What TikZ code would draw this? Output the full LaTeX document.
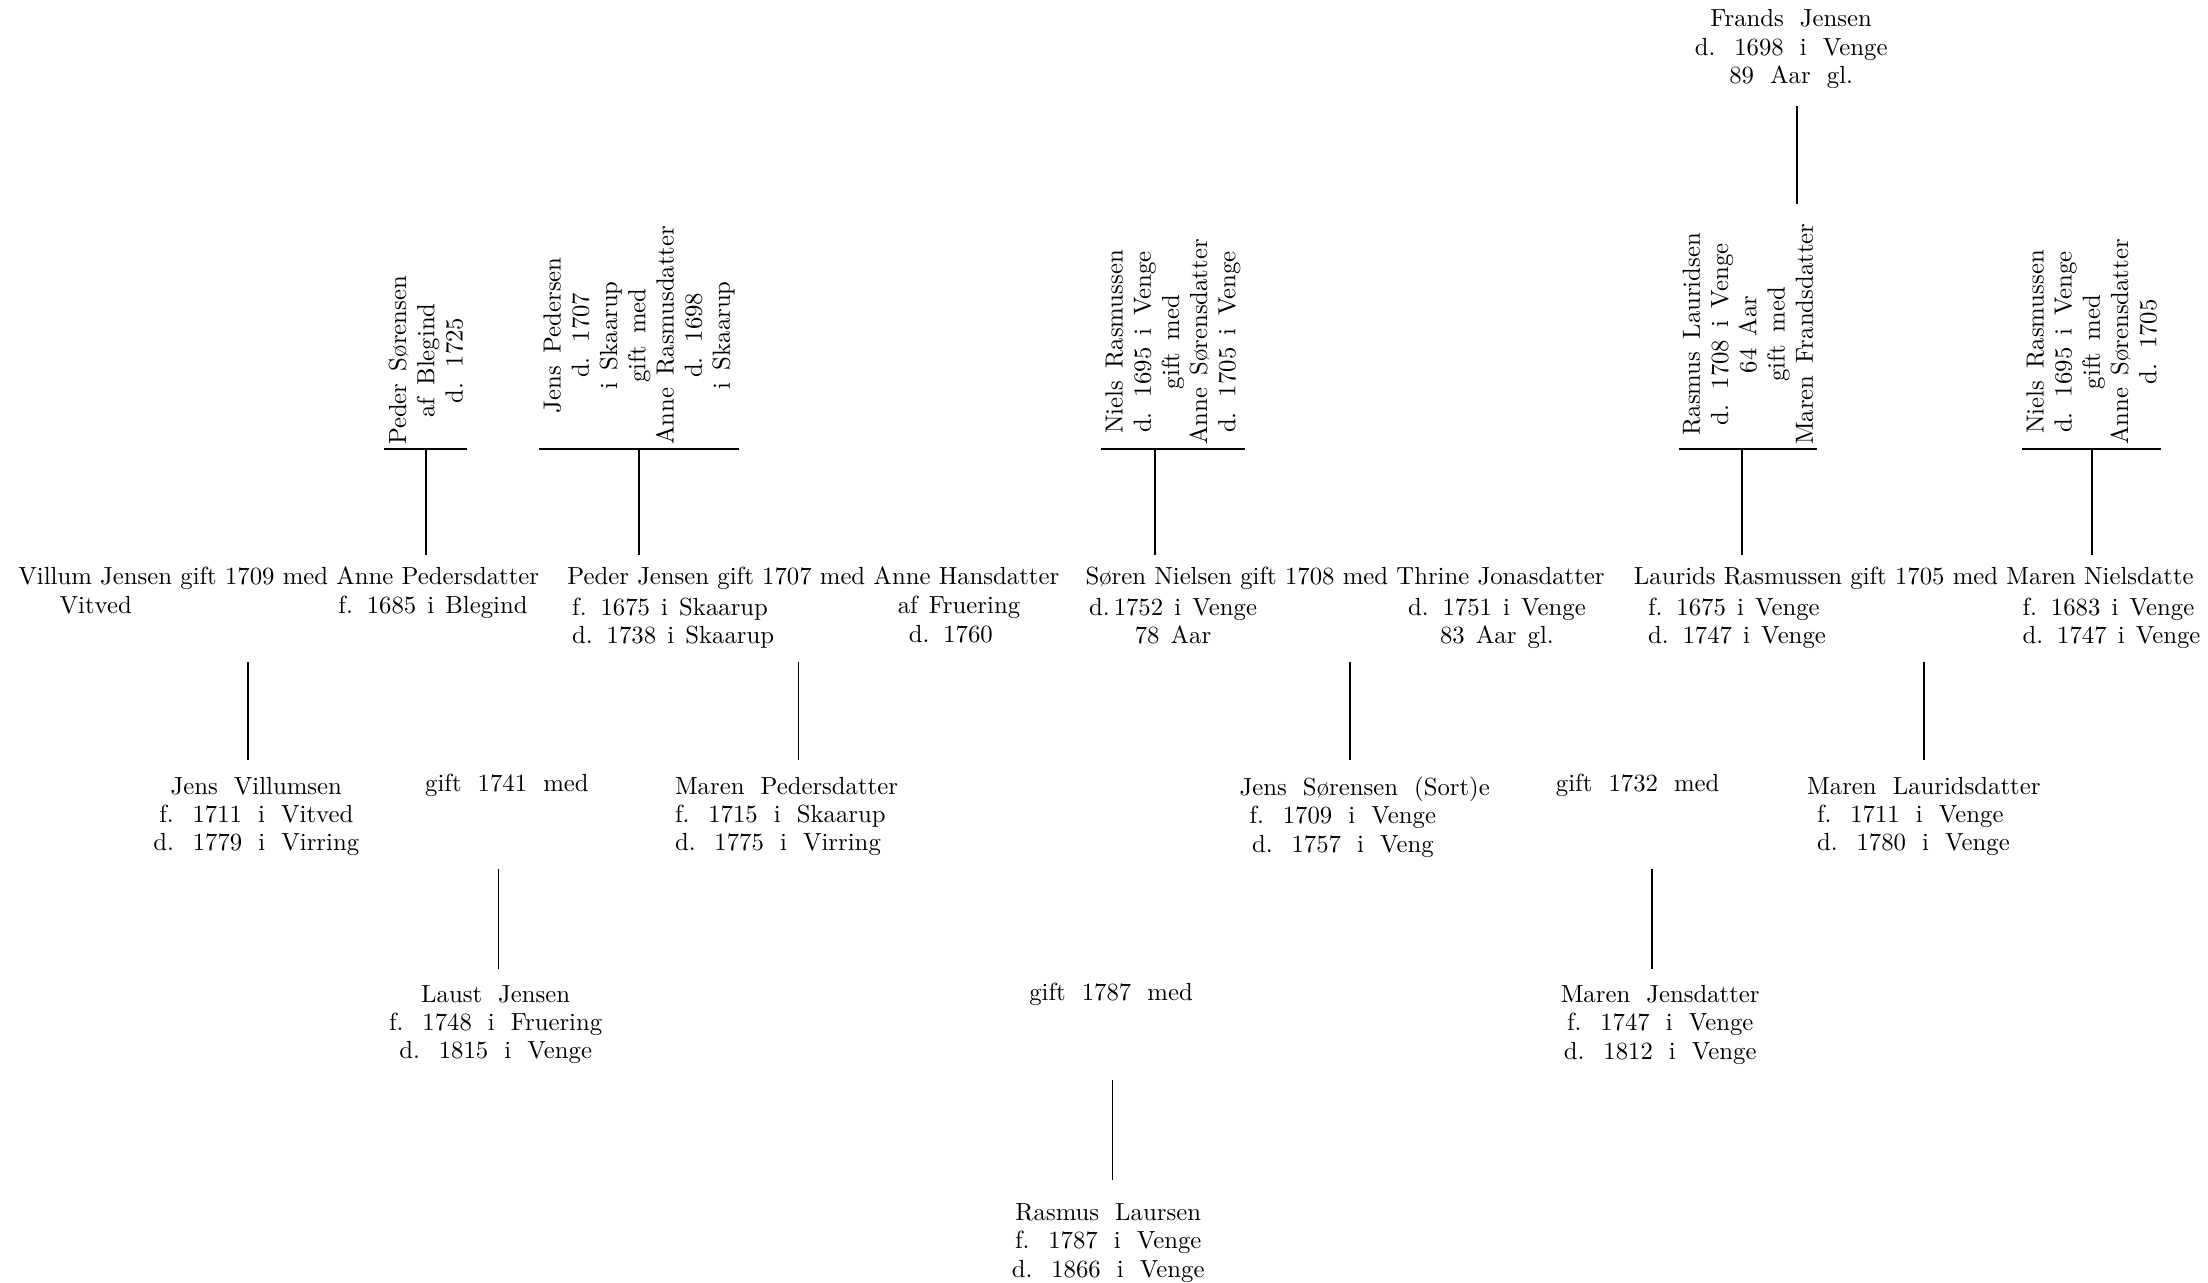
\documentclass[tikz,border=0pt]{standalone}
\usepackage{fontspec}
\newcommand\spA{\spaceskip=4.5pt plus 1pt\relax}
\newcommand\spB{\spaceskip=6.5pt plus 1pt\relax}
\newcommand\spC{\spaceskip=5pt plus 1pt\relax}
\begin{document}
\begin{tikzpicture}[x=0.2mm,y=-0.2mm,
  txt/.style={inner sep=0pt, font=\fontsize{10}{11.4}\selectfont, execute at begin node=\strut},
  sp4/.style={txt, execute at begin node=\spA\strut},
  sp6/.style={txt, execute at begin node=\spB\strut},
  rot/.style={rotate=90, anchor=north west, align=center, inner xsep=1.5pt, inner ysep=1.5pt,
              font=\fontsize{10}{11.4}\selectfont, execute at begin node=\spC},
  conn/.style={line width=0.75pt}]
\useasboundingbox (0,0) rectangle (1568,911);

% top ancestor
\node[sp6, align=center, anchor=north] (fj) at (1272,6.5) {Frands Jensen\\d. 1698 i Venge\\89 Aar gl.};
\coordinate (fje) at (1276,145);
\draw[conn, shorten <=2mm] (fje |- fj.south) -- (fje);

% rotated ancestor couples
\node[rot] (ps) at (273,319) {Peder Sørensen\\af Blegind\\d. 1725};
\node[rot] (jp) at (383,319) {Jens Pedersen\\d. 1707\\i Skaarup\\gift med\\Anne Rasmusdatter\\d. 1698\\i Skaarup};
\node[rot] (nra) at (782,319) {Niels Rasmussen\\d. 1695 i Venge\\gift med\\Anne Sørensdatter\\d. 1705 i Venge};
\node[rot] (rl) at (1192,319) {Rasmus Lauridsen\\d. 1708 i Venge\\64 Aar\\gift med\\Maren Frandsdatter};
\node[rot] (nrb) at (1436,319) {Niels Rasmussen\\d. 1695 i Venge\\gift med\\Anne Sørensdatter\\d. 1705};
\foreach \n in {ps,jp,nra,rl,nrb} \draw[conn] (\n.north west) -- (\n.south west);

% row 1
\node[txt, anchor=north west] (r1a) at (12.7,401) {Villum Jensen gift 1709 med Anne Pedersdatter};
\node[sp4, anchor=north] (r1a1) at (68,421) {Vitved};
\node[sp4, anchor=north east] (r1a2) at (375,421) {f. 1685 i Blegind};
\node[txt, anchor=north west] (r1b) at (402.6,401) {Peder Jensen gift 1707 med Anne Hansdatter};
\node[sp4, anchor=north west, align=left] (r1b1) at (406,424.5) {f. 1675 i Skaarup\\d. 1738 i Skaarup};
\node[sp4, anchor=north] (r1b2) at (681,421) {af Fruering};
\node[sp4, anchor=north west] (r1b3) at (645,442) {d. 1760};
\node[txt, anchor=north west] (r1c) at (770.5,401) {Søren Nielsen gift 1708 med Thrine Jonasdatter};
\node[sp4, anchor=north, align=center] (r1c1) at (833,424.5) {d.\,1752 i Venge\\78 Aar};
\node[sp4, anchor=north, align=center] (r1c2) at (1063,424.5) {d. 1751 i Venge\\83 Aar gl.};
\node[txt, anchor=north west] (r1d) at (1160,401) {Laurids Rasmussen gift 1705 med Maren Nielsdatte};
\node[sp4, anchor=north west, align=left] (r1d1) at (1170,424.5) {f. 1675 i Venge\\d. 1747 i Venge};
\node[sp4, anchor=north west, align=left] (r1d2) at (1436,424.5) {f. 1683 i Venge\\d. 1747 i Venge};

% connectors rotated -> row 1
\coordinate (nrax) at (820,319);
\coordinate (rlx) at (1237,319);
\draw[conn, shorten >=1.4mm] (ps.west) -- (ps.west |- r1a.north);
\draw[conn, shorten >=1.4mm] (jp.west) -- (jp.west |- r1b.north);
\draw[conn, shorten >=1.4mm] (nrax) -- (nrax |- r1c.north);
\draw[conn, shorten >=1.4mm] (rlx) -- (rlx |- r1d.north);
\draw[conn, shorten >=1.4mm] (nrb.west) -- (nrb.west |- r1d.north);

% row 2
\node[sp6, anchor=north, align=center] (r2a) at (182,551.5) {Jens Villumsen\\f. 1711 i Vitved\\d. 1779 i Virring};
\node[sp6, anchor=north] (r2b) at (360,548) {gift 1741 med};
\node[sp6, anchor=north west, align=left] (r2c) at (479,551.5) {Maren Pedersdatter\\f. 1715 i Skaarup\\d. 1775 i Virring};
\node[sp6, anchor=north west, align=left] (r2d) at (880,551.5) {Jens Sørensen (Sort)e\\\hspace{4pt}f. 1709 i Venge\\\hspace{5pt}d. 1757 i Veng};
\node[sp6, anchor=north] (r2e) at (1163,548) {gift 1732 med};
\node[sp6, anchor=north west, align=left] (r2f) at (1283,551.5) {Maren Lauridsdatter\\\hspace{4pt}f. 1711 i Venge\\\hspace{4pt}d. 1780 i Venge};

% connectors row 1 -> row 2
\coordinate (va) at (176,470);
\coordinate (vb) at (567,470);
\coordinate (vc) at (958.8,470);
\coordinate (vd) at (1366,470);
\draw[conn, shorten >=2.3mm] (va) -- (va |- r2a.north);
\draw[conn, shorten >=2.3mm] (vb) -- (vb |- r2c.north);
\draw[conn, shorten >=2.3mm] (vc) -- (vc |- r2d.north);
\draw[conn, shorten >=2.3mm] (vd) -- (vd |- r2f.north);

% row 3
\node[sp6, anchor=north, align=center] (r3a) at (352,699.5) {Laust Jensen\\f. 1748 i Fruering\\d. 1815 i Venge};
\node[sp6, anchor=north] (r3b) at (789,696) {gift 1787 med};
\node[sp6, anchor=north, align=center] (r3c) at (1179,699.5) {Maren Jensdatter\\f. 1747 i Venge\\d. 1812 i Venge};

\coordinate (ve) at (354,617);
\coordinate (vf) at (1173,617);
\draw[conn, shorten >=2.3mm] (ve) -- (ve |- r3a.north);
\draw[conn, shorten >=2.3mm] (vf) -- (vf |- r3c.north);

% row 4
\node[sp6, anchor=north, align=center] (r4) at (787,854.5) {Rasmus Laursen\\f. 1787 i Venge\\d. 1866 i Venge};
\coordinate (vg) at (790,767);
\draw[conn, shorten >=3.3mm] (vg) -- (vg |- r4.north);
\end{tikzpicture}
\end{document}
